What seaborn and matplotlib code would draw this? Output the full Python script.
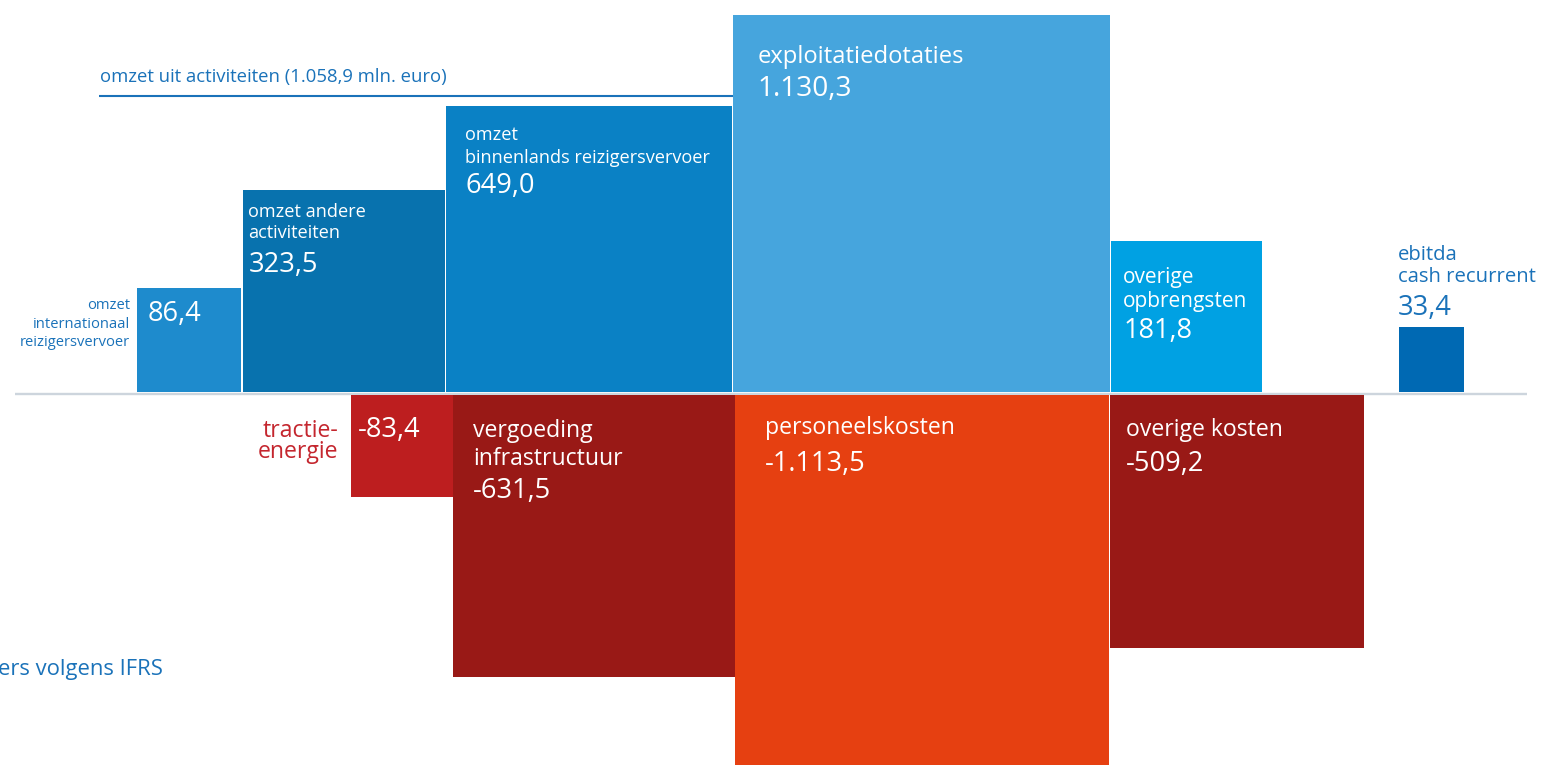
import numpy as np
import pandas as pd
import seaborn as sns
import matplotlib
matplotlib.use("Agg")
import matplotlib.pyplot as plt

# ---------------- data ----------------
pos_labels = [["omzet", "internationaal", "reizigersvervoer"],
              ["omzet andere", "activiteiten"],
              ["omzet", "binnenlands reizigersvervoer"],
              ["exploitatiedotaties"],
              ["overige", "opbrengsten"]]
pos_values = [86.4, 323.5, 649.0, 1130.3, 181.8]
pos_colors = ["#1E8BCD", "#0872AE", "#0A81C5", "#46A5DD", "#00A1E3"]

ebitda_label = ["ebitda", "cash recurrent"]
ebitda_value = 33.4
ebitda_color = "#0069B3"

neg_labels = [["tractie-", "energie"],
              ["vergoeding", "infrastructuur"],
              ["personeelskosten"],
              ["overige kosten"]]
neg_values = [-83.4, -631.5, -1113.5, -509.2]
neg_colors = ["#BD1E1F", "#991916", "#E64011", "#991916"]

revenue_label = "omzet uit activiteiten (1.058,9 mln. euro)"
footer_label = "ers volgens IFRS"   # visible part of the (cropped) footnote

BLUE_TXT = "#1A72B9"
RED_TXT = "#C4262E"
BASE_COL = "#CDD5DD"


def fmt(v):
    s = f"{v:,.1f}"
    return s.replace(",", "X").replace(".", ",").replace("X", ".")


df_pos = pd.DataFrame({"value": pos_values, "color": pos_colors})
df_neg = pd.DataFrame({"value": neg_values, "color": neg_colors})

# ---------------- style ----------------
sns.set_theme(style="white")
plt.rcParams["font.family"] = ["Open Sans", "DejaVu Sans"]

W, H = 1543, 765
K = 11.22           # pixels per sqrt-unit (square area ~ value)
BASE_PX = 393.5     # baseline position from top in pixels

fig = plt.figure(figsize=(W / 100, H / 100), dpi=100)
ax = fig.add_axes([0, 0, 1, 1])
ax.set_xlim(0, W / K)
ax.set_ylim(-(H - BASE_PX) / K, BASE_PX / K)
ax.axis("off")


def P(p):
    return p / K


# ---------------- positive bars ----------------
df_pos["side"] = np.sqrt(df_pos["value"].abs())
gaps = [2, 1, 1, 1]
lefts = [P(137)]
for i in range(1, len(df_pos)):
    lefts.append(lefts[-1] + df_pos["side"][i - 1] + P(gaps[i - 1]))
df_pos["left"] = lefts
pos_bottom = P(1.5)
ax.bar(df_pos["left"], df_pos["side"], width=df_pos["side"], bottom=pos_bottom,
       align="edge", color=df_pos["color"], linewidth=0)

ebitda_side = np.sqrt(ebitda_value)
ebitda_left = P(1399)
ax.bar([ebitda_left], [ebitda_side], width=[ebitda_side], bottom=pos_bottom,
       align="edge", color=ebitda_color, linewidth=0)

# ---------------- negative bars ----------------
df_neg["side"] = np.sqrt(df_neg["value"].abs())
pers_left = df_pos["left"][3] + P(2)
infra_left = pers_left - df_neg["side"][1]
tract_left = infra_left - df_neg["side"][0]
other_left = pers_left + df_neg["side"][2] + P(1)
df_neg["left"] = [tract_left, infra_left, pers_left, other_left]
neg_top = -P(1.5)
ax.bar(df_neg["left"], -df_neg["side"], width=df_neg["side"], bottom=neg_top,
       align="edge", color=df_neg["color"], linewidth=0)

# ---------------- baseline & revenue bracket ----------------
ax.plot([P(15), P(1527)], [0, 0], color=BASE_COL, lw=1.7, solid_capstyle="butt", zorder=0)
rev_y = P(BASE_PX - 96)
ax.plot([P(99), df_pos["left"][3]], [rev_y, rev_y], color=BLUE_TXT, lw=1.5,
        solid_capstyle="butt")
ax.text(P(100), P(BASE_PX - 81.7), revenue_label, color=BLUE_TXT, fontsize=13.3,
        va="baseline", ha="left")

LBL = 13.1
BIG = 16.6
VAL = 19.6


def lines(x, ytop, dys, texts, size, color="white", ha="left"):
    for dy, t in zip(dys, texts):
        ax.text(x, ytop - P(dy), t, fontsize=size, color=color, va="baseline", ha=ha)


# positive labels
tops = pos_bottom + df_pos["side"]
L = df_pos["left"]
# international (outside, left)
lines(L[0] - P(7), tops[0], [21, 40, 58.7], pos_labels[0], 10.6, BLUE_TXT, ha="right")
lines(L[0] + P(11), tops[0], [33.7], [fmt(pos_values[0])], VAL)
# andere activiteiten
lines(L[1] + P(5), tops[1], [26.7, 48], pos_labels[1], LBL)
lines(L[1] + P(5), tops[1], [81.7], [fmt(pos_values[1])], VAL)
# binnenlands
lines(L[2] + P(19), tops[2], [34, 56.7], pos_labels[2], LBL)
lines(L[2] + P(19), tops[2], [87], [fmt(pos_values[2])], VAL)
# exploitatiedotaties
lines(L[3] + P(25), tops[3], [48.3], pos_labels[3], 17.1)
lines(L[3] + P(25), tops[3], [81], [fmt(pos_values[3])], 20.2)
# overige opbrengsten
lines(L[4] + P(12), tops[4], [42, 66], pos_labels[4], 15)
lines(L[4] + P(12), tops[4], [97], [fmt(pos_values[4])], VAL)
# ebitda (outside, above)
etop = pos_bottom + ebitda_side
lines(ebitda_left - P(1), etop, [-67, -45.3], ebitda_label, 14.6, BLUE_TXT)
lines(ebitda_left - P(1), etop, [-12], [fmt(ebitda_value)], VAL, BLUE_TXT)

# negative labels
NL = df_neg["left"]
lines(NL[0] - P(12), neg_top, [41.7, 62.7], neg_labels[0], BIG, RED_TXT, ha="right")
lines(NL[0] + P(7), neg_top, [41.7], [fmt(neg_values[0])], VAL)
lines(NL[1] + P(20), neg_top, [41.7, 70], neg_labels[1], BIG)
lines(NL[1] + P(20), neg_top, [103], [fmt(neg_values[1])], VAL)
lines(NL[2] + P(30), neg_top, [39], neg_labels[2], BIG)
lines(NL[2] + P(30), neg_top, [76], [fmt(neg_values[2])], VAL)
lines(NL[3] + P(16), neg_top, [41], neg_labels[3], BIG)
lines(NL[3] + P(16), neg_top, [76], [fmt(neg_values[3])], VAL)

# footer (the reference shows only its right part at the left edge)
ax.text(P(163), P(BASE_PX - 675), footer_label, color=BLUE_TXT, fontsize=15.8,
        va="baseline", ha="right")

fig.savefig("out.png", dpi=100)
